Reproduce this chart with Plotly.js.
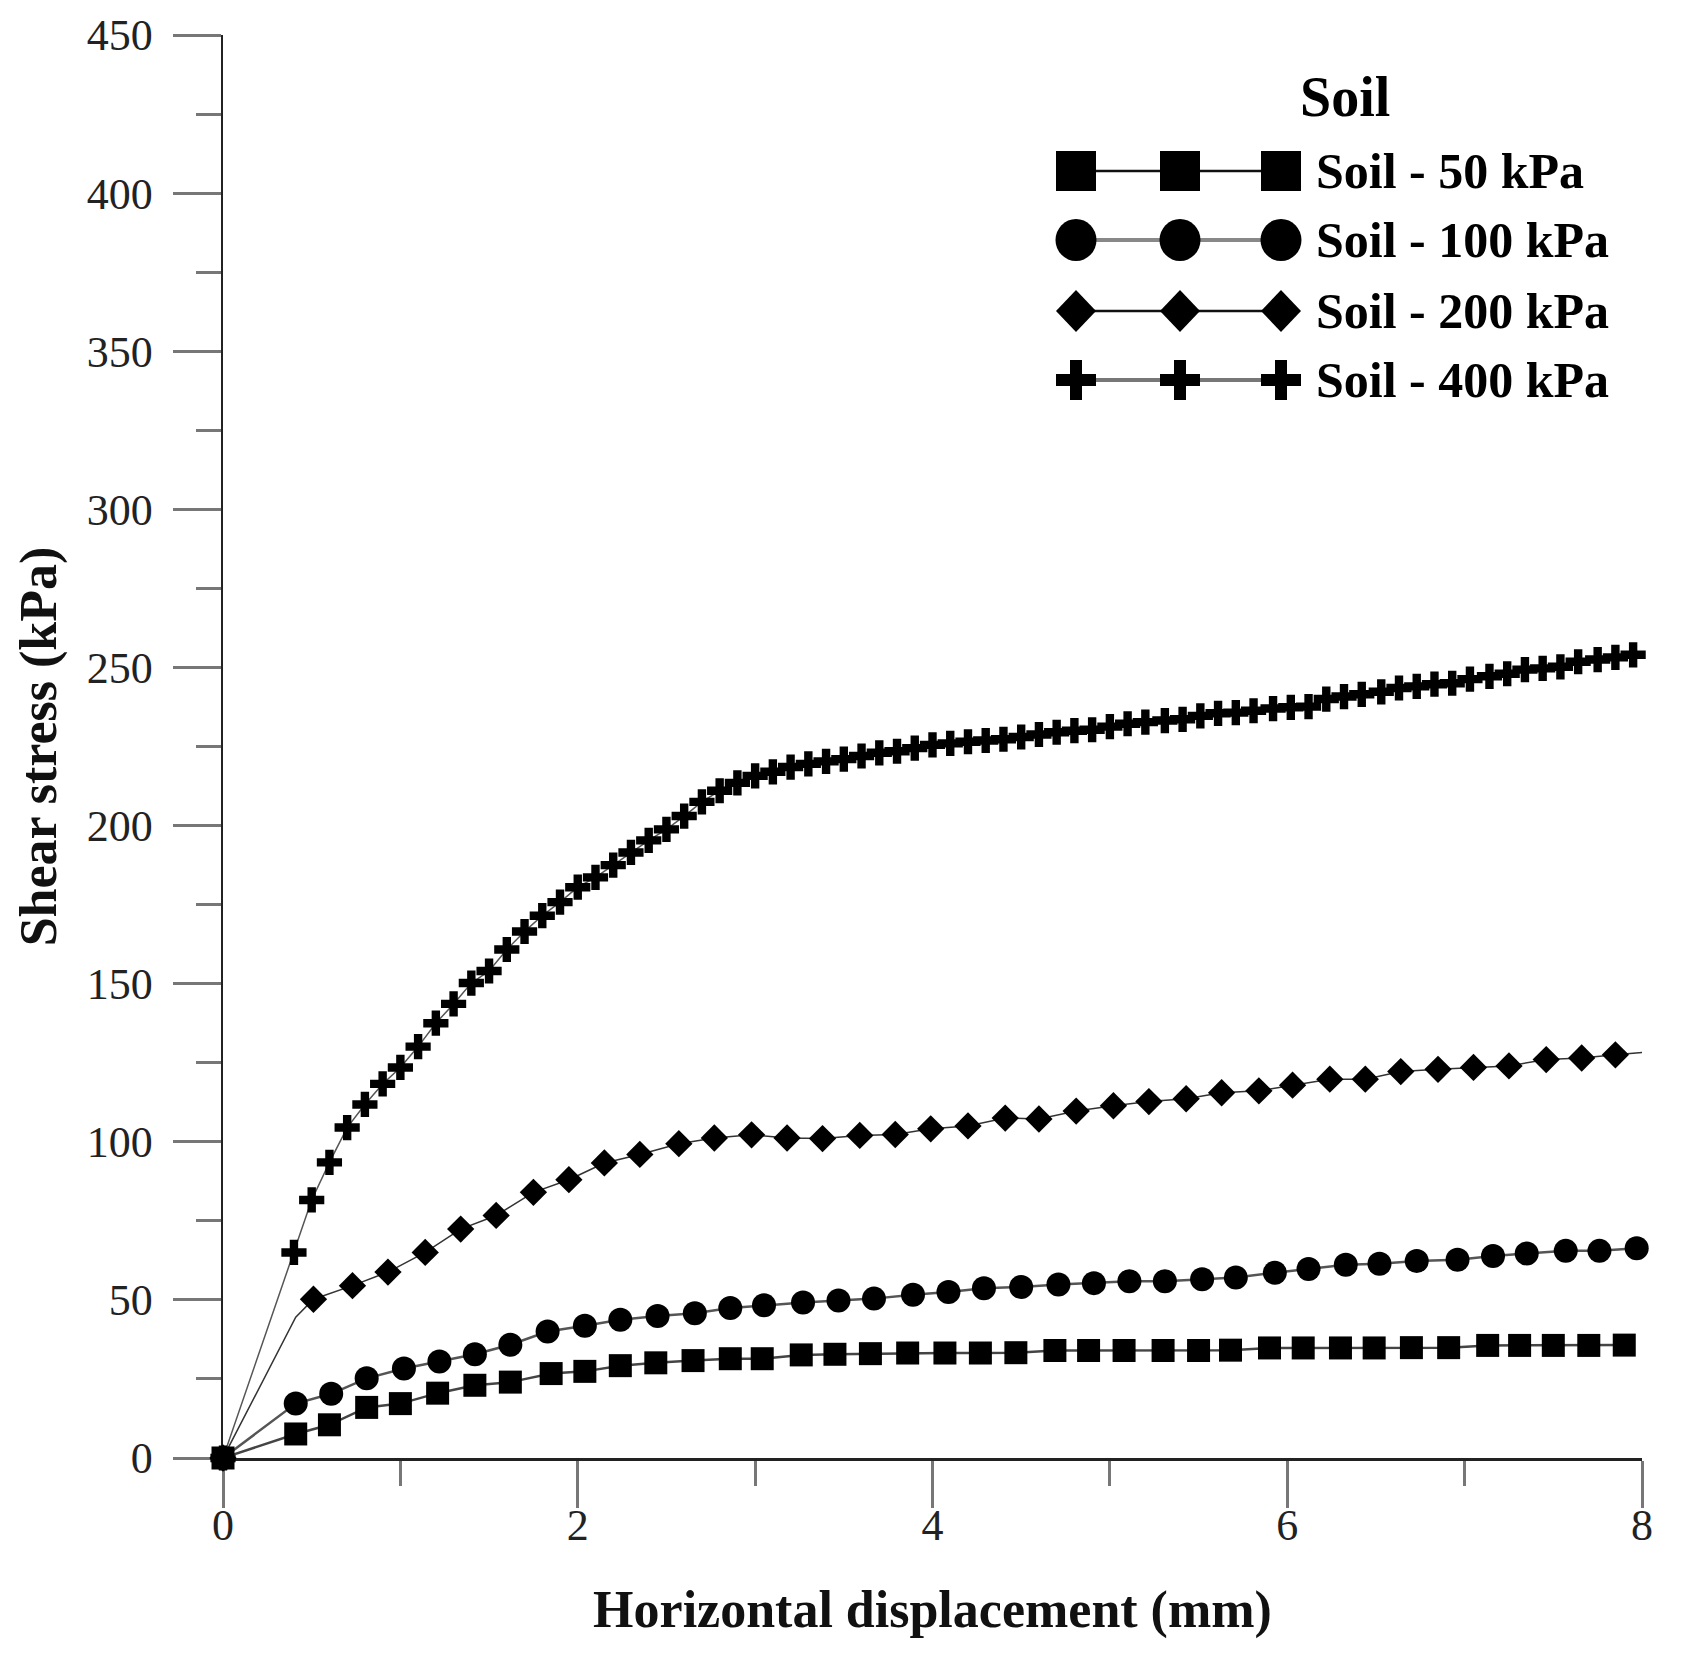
<!DOCTYPE html>
<html>
<head>
<meta charset="utf-8">
<script src="https://cdn.plot.ly/plotly-3.0.1.min.js"></script>
<style>html,body{margin:0;padding:0;background:#fff;}</style>
</head>
<body>
<div id="chart" style="width:1689px;height:1659px;"></div>
<script>
// ---------- data ----------
const seriesNames = ['Soil - 50 kPa', 'Soil - 100 kPa', 'Soil - 200 kPa', 'Soil - 400 kPa'];
const legendTitle = 'Soil';
const xTitle = 'Horizontal displacement (mm)';
const yTitle = 'Shear stress (kPa)';

const x50 = [0, 0.41, 0.6, 0.81, 1.0, 1.21, 1.42, 1.62, 1.85, 2.04, 2.24, 2.44, 2.65, 2.86, 3.04, 3.26, 3.45, 3.65, 3.86, 4.07,
  4.27, 4.47, 4.69, 4.88, 5.08, 5.3, 5.5, 5.68, 5.9, 6.09, 6.3, 6.49, 6.7, 6.91, 7.13, 7.31, 7.5, 7.7, 7.9];
const y50 = [0, 7.6, 10.5, 16.0, 17.2, 20.5, 23.0, 24.0, 26.7, 27.4, 29.2, 30.1, 30.8, 31.4, 31.4, 32.6, 32.8, 33.0, 33.2, 33.2,
  33.2, 33.3, 34.0, 34.0, 34.0, 34.0, 34.0, 34.1, 34.8, 34.8, 34.8, 34.8, 34.9, 34.9, 35.6, 35.6, 35.6, 35.6, 35.7];

const x100 = [0, 0.41, 0.61, 0.81, 1.02, 1.22, 1.42, 1.62, 1.83, 2.04, 2.24, 2.45, 2.66, 2.86, 3.05, 3.27, 3.47, 3.67, 3.89, 4.09,
  4.29, 4.5, 4.71, 4.91, 5.11, 5.31, 5.52, 5.71, 5.93, 6.12, 6.33, 6.52, 6.73, 6.96, 7.16, 7.35, 7.57, 7.76, 7.97];
const y100 = [0, 17.2, 20.3, 25.2, 28.3, 30.5, 32.8, 35.8, 40.0, 41.8, 43.7, 44.9, 45.8, 47.4, 48.3, 49.2, 49.8, 50.4, 51.6, 52.5,
  53.7, 54.1, 54.9, 55.3, 55.9, 55.9, 56.5, 57.1, 58.6, 59.8, 61.1, 61.4, 62.3, 62.7, 63.9, 64.7, 65.5, 65.5, 66.3];

const x200 = [0, 0.41, 0.51, 0.73, 0.93, 1.14, 1.34, 1.54, 1.75, 1.95, 2.15, 2.35, 2.57, 2.77, 2.98, 3.18, 3.38, 3.59, 3.79, 3.99,
  4.2, 4.41, 4.6, 4.81, 5.02, 5.22, 5.43, 5.63, 5.84, 6.03, 6.24, 6.44, 6.64, 6.85, 7.05, 7.25, 7.46, 7.66, 7.85, 8.06];
const y200 = [0, 44.5, 50.2, 54.5, 58.8, 65.0, 72.4, 76.7, 84.0, 88.0, 93.3, 96.0, 99.4, 101.2, 102.2, 101.2, 101.0, 102.0, 102.3, 104.1,
  105.0, 107.5, 107.2, 109.7, 111.4, 112.7, 113.6, 115.5, 116.1, 117.9, 119.8, 119.8, 122.2, 122.9, 123.5, 124.0, 126.0, 126.5, 127.5, 128.5];

const x400 = [0, 0.4, 0.5, 0.6, 0.7, 0.8, 0.9, 1.0, 1.1, 1.2, 1.3, 1.4, 1.5, 1.6, 1.7, 1.8, 1.9, 2.0, 2.1, 2.2, 2.3, 2.4, 2.5,
  2.6, 2.7, 2.8, 2.9, 3.0, 3.1, 3.2, 3.3, 3.4, 3.5, 3.6, 3.7, 3.8, 3.9, 4.0, 4.1, 4.2, 4.3, 4.4, 4.5, 4.6, 4.7, 4.8, 4.9,
  5.0, 5.1, 5.2, 5.31, 5.41, 5.51, 5.61, 5.71, 5.81, 5.92, 6.02, 6.12, 6.22, 6.32, 6.42, 6.53, 6.63, 6.73, 6.83, 6.93,
  7.03, 7.14, 7.24, 7.34, 7.44, 7.54, 7.64, 7.75, 7.85, 7.95, 8.05];
const y400 = [0, 65, 81.6, 93.5, 104.5, 111.8, 118.3, 123.5, 130.1, 137.5, 143.6, 150.2, 154, 160.8, 166.5, 171.5, 175.8, 180.5,
  183.6, 187.5, 191.5, 195.3, 198.8, 203, 207.5, 211, 213.5, 215.7, 217, 218.5, 219.5, 220.3, 221, 222, 223, 223.5, 224.5,
  225.5, 226, 226.5, 226.9, 227.3, 228, 228.8, 229.5, 230, 230.3,
  231.3, 232.2, 232.7, 233.2, 233.6, 234.7, 235.5, 235.7, 236.3, 237.0, 237.4, 237.6, 240.0, 240.8, 241.5, 242.3, 243.5,
  244.0, 244.7, 245.0, 246.3, 247.2, 248.0, 249.3, 249.7, 250.2, 251.8, 252.5, 253.2, 254.0, 254.5];

const xTickVals = [0, 2, 4, 6, 8];
const yTickVals = [0, 50, 100, 150, 200, 250, 300, 350, 400, 450];

// ---------- layout geometry ----------
const W = 1689, H = 1659;
const M = {l: 223, r: 47, t: 35, b: 201};
const PW = W - M.l - M.r, PH = H - M.t - M.b;
const FONT = 'Liberation Serif, Times New Roman, serif';
const px = ax => (ax - M.l) / PW;          // pixel -> paper x
const py = ay => (H - M.b - ay) / PH;      // pixel -> paper y

// hide the marker of the unmarked kink point of the 200 kPa curve
const size200 = x200.map((v, i) => (i === 1 ? 0 : 21));

const traces = [
  {x: x400, y: y400, name: seriesNames[3], mode: 'lines+markers', cliponaxis: false, showlegend: false,
   line: {color: '#555', width: 1.5}, marker: {symbol: 'cross', size: 21, color: '#000', opacity: 1, line: {width: 0}}},
  {x: x200, y: y200, name: seriesNames[2], mode: 'lines+markers', cliponaxis: false, showlegend: false,
   line: {color: '#333', width: 1.5}, marker: {symbol: 'diamond', size: size200, color: '#000', opacity: 1, line: {width: 0}}},
  {x: x100, y: y100, name: seriesNames[1], mode: 'lines+markers', cliponaxis: false, showlegend: false,
   line: {color: '#555', width: 2.5}, marker: {symbol: 'circle', size: 24, color: '#000', opacity: 1, line: {width: 0}}},
  {x: x50, y: y50, name: seriesNames[0], mode: 'lines+markers', cliponaxis: false, showlegend: false,
   line: {color: '#444', width: 2.5}, marker: {symbol: 'square', size: 23, color: '#000', opacity: 1, line: {width: 0}}}
];

// ---------- hand-built legend (three markers on a line, as in the reference) ----------
const legX = [1076, 1180, 1281];
const legRows = [171, 240, 311, 380];
const legLine = [{c: '#111', w: 2.5}, {c: '#888', w: 4}, {c: '#111', w: 2.5}, {c: '#777', w: 4}];
const shapes = [];
const annotations = [];
function markerShape(kind, cx, cy) {
  const base = {xref: 'paper', yref: 'paper', xsizemode: 'pixel', ysizemode: 'pixel',
    xanchor: px(cx), yanchor: py(cy), fillcolor: '#000', line: {width: 0}, layer: 'above'};
  if (kind === 0) return Object.assign(base, {type: 'rect', x0: -20, x1: 20, y0: -20, y1: 20});
  if (kind === 1) return Object.assign(base, {type: 'circle', x0: -20.5, x1: 20.5, y0: -21, y1: 21});
  if (kind === 2) return Object.assign(base, {type: 'path', path: 'M0,21 L20,0 L0,-21 L-20,0 Z'});
  const a = 20, t = 6;
  return Object.assign(base, {type: 'path',
    path: `M-${t},${a} L${t},${a} L${t},${t} L${a},${t} L${a},-${t} L${t},-${t} L${t},-${a} L-${t},-${a} L-${t},-${t} L-${a},-${t} L-${a},${t} L-${t},${t} Z`});
}
seriesNames.forEach((name, k) => {
  const cy = legRows[k];
  shapes.push({type: 'line', xref: 'paper', yref: 'paper', x0: px(legX[0]), x1: px(legX[2]),
    y0: py(cy), y1: py(cy), line: {color: legLine[k].c, width: legLine[k].w}, layer: 'above'});
  legX.forEach(cx => shapes.push(markerShape(k, cx, cy)));
  annotations.push({xref: 'paper', yref: 'paper', x: px(1314), y: py(cy), xanchor: 'left', yanchor: 'middle',
    text: '<b>' + name + '</b>', showarrow: false, font: {family: FONT, size: 50, color: '#000'}});
});
annotations.push({xref: 'paper', yref: 'paper', x: px(1345), y: py(97), xanchor: 'center', yanchor: 'middle',
  text: '<b>' + legendTitle + '</b>', showarrow: false, font: {family: FONT, size: 56, color: '#000'}});

const layout = {
  width: W, height: H, autosize: false,
  margin: M,
  paper_bgcolor: '#fff', plot_bgcolor: '#fff',
  font: {family: FONT, color: '#000'},
  showlegend: false,
  xaxis: {
    range: [0, 8], showgrid: false, zeroline: false, layer: 'below traces',
    showline: true, linecolor: '#222', linewidth: 2.5,
    tickmode: 'array', tickvals: xTickVals, ticktext: xTickVals.map(String),
    ticks: 'outside', ticklen: 47, tickwidth: 3, tickcolor: '#777',
    minor: {dtick: 1, tick0: 0, ticks: 'outside', ticklen: 25, tickwidth: 3, tickcolor: '#777', showgrid: false},
    tickfont: {family: FONT, size: 44, color: '#222'}, ticklabelstandoff: -20,
    title: {text: '<b>' + xTitle + '</b>', font: {family: FONT, size: 52, color: '#111'}, standoff: 42}
  },
  yaxis: {
    range: [0, 450], showgrid: false, zeroline: false, layer: 'below traces',
    showline: true, linecolor: '#222', linewidth: 2.5,
    tickmode: 'array', tickvals: yTickVals, ticktext: yTickVals.map(String),
    ticks: 'outside', ticklen: 48, tickwidth: 3, tickcolor: '#777',
    minor: {dtick: 25, tick0: 0, ticks: 'outside', ticklen: 25, tickwidth: 3, tickcolor: '#777', showgrid: false},
    tickfont: {family: FONT, size: 44, color: '#222'}, ticklabelstandoff: 11,
    title: {text: '<b>' + yTitle + '</b>', font: {family: FONT, size: 52, color: '#111'}, standoff: 14}
  },
  shapes: shapes,
  annotations: annotations
};

Plotly.newPlot('chart', traces, layout, {displayModeBar: false, staticPlot: true});
</script>
</body>
</html>
